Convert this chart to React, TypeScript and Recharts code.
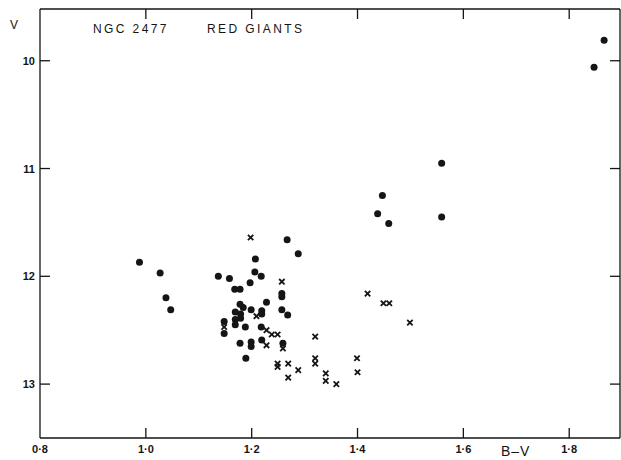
import React from 'react'
import { ScatterChart, Scatter, XAxis, YAxis } from 'recharts'

// B-V colour, V magnitude
const filledStars: [number, number][] = [
  [0.988, 11.87], [1.027, 11.97], [1.038, 12.2], [1.047, 12.31],
  [1.137, 12.0], [1.158, 12.02], [1.168, 12.12], [1.178, 12.12],
  [1.197, 12.06], [1.207, 11.84], [1.206, 11.96], [1.218, 12.0],
  [1.267, 11.66], [1.288, 11.79], [1.228, 12.24], [1.257, 12.16],
  [1.257, 12.19], [1.257, 12.31], [1.268, 12.36], [1.178, 12.26],
  [1.184, 12.29], [1.199, 12.31], [1.219, 12.32], [1.219, 12.35],
  [1.169, 12.33], [1.179, 12.35], [1.179, 12.39], [1.169, 12.4],
  [1.169, 12.45], [1.148, 12.42], [1.148, 12.53], [1.188, 12.47],
  [1.218, 12.47], [1.219, 12.59], [1.178, 12.62], [1.199, 12.61],
  [1.199, 12.65], [1.259, 12.62], [1.189, 12.76],
  [1.447, 11.25], [1.438, 11.42], [1.459, 11.51],
  [1.559, 10.95], [1.559, 11.45],
  [1.847, 10.06], [1.866, 9.81],
]

const crossStars: [number, number][] = [
  [1.198, 11.64], [1.257, 12.05], [1.209, 12.37], [1.148, 12.47],
  [1.228, 12.5], [1.238, 12.54], [1.249, 12.54], [1.228, 12.64],
  [1.259, 12.67], [1.249, 12.81], [1.249, 12.84], [1.269, 12.81],
  [1.288, 12.87], [1.269, 12.94], [1.32, 12.56], [1.32, 12.76],
  [1.32, 12.81], [1.419, 12.16], [1.449, 12.25], [1.46, 12.25],
  [1.499, 12.43], [1.399, 12.76], [1.4, 12.89], [1.34, 12.9],
  [1.34, 12.97], [1.36, 13.0],
]

const bvTicks = [0.8, 1.0, 1.2, 1.4, 1.6, 1.8]
const bvTopTicks = [1.0, 1.2, 1.4, 1.6, 1.8]
const vTicks = [10, 11, 12, 13]

const toRows = (pts: [number, number][]) => pts.map(([bv, v]) => ({ bv, v }))

const ink = '#151515'
const font = '"Liberation Sans", Arial, sans-serif'
const TICK = 10
const frame = { stroke: ink, strokeWidth: 1.3 }

const Dot = (props: any) => {
  const { cx, cy } = props
  return <circle cx={cx} cy={cy} r={3.5} fill={ink} />
}

const Cross = (props: any) => {
  const { cx, cy } = props
  const s = 2.7
  return (
    <g stroke={ink} strokeWidth={1.8}>
      <line x1={cx - s} y1={cy - s} x2={cx + s} y2={cy + s} />
      <line x1={cx - s} y1={cy + s} x2={cx + s} y2={cy - s} />
    </g>
  )
}

const fmt = (v: number) => v.toFixed(1).replace('.', '\u00b7')

const labelStyle = { fill: ink, fontSize: 11, fontWeight: 700, fontFamily: font }

// ticks point inwards, like the original plate
const BottomTick = (props: any) => {
  const { x, y, payload } = props
  return (
    <g>
      {payload.value > 0.8 && <line x1={x} x2={x} y1={y} y2={y - TICK} {...frame} />}
      <text x={x} y={y + 15} textAnchor="middle" {...labelStyle}>{fmt(payload.value)}</text>
    </g>
  )
}

const TopTick = (props: any) => {
  const { x, y } = props
  return <line x1={x} x2={x} y1={y} y2={y + TICK} {...frame} />
}

const LeftTick = (props: any) => {
  const { x, y, payload } = props
  return (
    <g>
      <line x1={x} x2={x + TICK} y1={y} y2={y} {...frame} />
      <text x={x - 5} y={y + 4} textAnchor="end" {...labelStyle}>{payload.value}</text>
    </g>
  )
}

const RightTick = (props: any) => {
  const { x, y } = props
  return <line x1={x} x2={x - TICK} y1={y} y2={y} {...frame} />
}

export default function App() {
  return (
    <div style={{ position: 'absolute', left: 0, top: 0, width: 621, height: 460, background: '#fff' }}>
      <ScatterChart width={621} height={460} margin={{ top: 8, right: 0, bottom: 0, left: 0 }}>
        <XAxis
          xAxisId="b"
          dataKey="bv"
          type="number"
          domain={[0.8, 1.896]}
          ticks={bvTicks}
          interval={0}
          height={22}
          tickSize={0}
          tickMargin={0}
          tick={<BottomTick />}
          tickLine={false}
          axisLine={frame}
          allowDataOverflow
        />
        <XAxis
          xAxisId="t"
          orientation="top"
          dataKey="bv"
          type="number"
          domain={[0.8, 1.896]}
          ticks={bvTopTicks}
          interval={0}
          height={1}
          tickSize={0}
          tickMargin={0}
          tick={<TopTick />}
          tickLine={false}
          axisLine={frame}
          allowDataOverflow
        />
        <YAxis
          yAxisId="l"
          dataKey="v"
          type="number"
          reversed
          domain={[9.52, 13.5]}
          ticks={vTicks}
          interval={0}
          width={40}
          tickSize={0}
          tickMargin={0}
          tick={<LeftTick />}
          tickLine={false}
          axisLine={frame}
          allowDataOverflow
        />
        <YAxis
          yAxisId="r"
          orientation="right"
          dataKey="v"
          type="number"
          reversed
          domain={[9.52, 13.5]}
          ticks={vTicks}
          interval={0}
          width={1}
          tickSize={0}
          tickMargin={0}
          tick={<RightTick />}
          tickLine={false}
          axisLine={frame}
          allowDataOverflow
        />
        <Scatter
          xAxisId="b"
          yAxisId="l"
          data={toRows(filledStars)}
          shape={<Dot />}
          isAnimationActive={false}
        />
        <Scatter
          xAxisId="t"
          yAxisId="r"
          data={toRows(crossStars)}
          shape={<Cross />}
          isAnimationActive={false}
        />
      </ScatterChart>
      <div style={{ position: 'absolute', left: 10, top: 18, fontFamily: font, fontSize: 12, color: ink }}>V</div>
      <div style={{ position: 'absolute', left: 93, top: 22, fontFamily: font, fontSize: 12, color: ink, letterSpacing: 2.4, whiteSpace: 'nowrap' }}>
        NGC 2477
      </div>
      <div style={{ position: 'absolute', left: 207, top: 22, fontFamily: font, fontSize: 12, color: ink, letterSpacing: 2.4, whiteSpace: 'nowrap' }}>
        RED GIANTS
      </div>
      <div style={{ position: 'absolute', left: 501, top: 443, fontFamily: font, fontSize: 14, color: ink, letterSpacing: 1, whiteSpace: 'nowrap' }}>
        B–V
      </div>
    </div>
  )
}
